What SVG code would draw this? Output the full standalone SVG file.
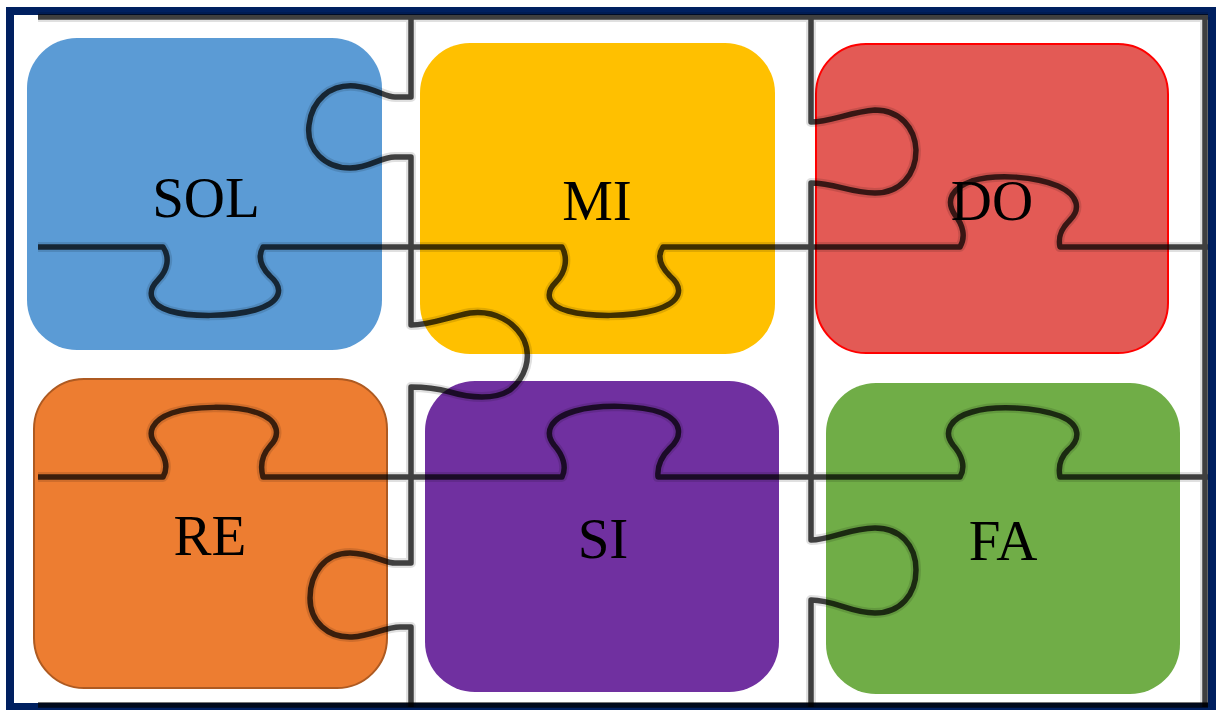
<svg xmlns="http://www.w3.org/2000/svg" width="1223" height="710" viewBox="0 0 1223 710">
  <defs>
    <style>
      .piece { stroke-width: 2; }
      .label { font-family: "Liberation Serif", "Times New Roman", serif; font-size: 57px; fill: #000; text-anchor: middle; }
      .halo { fill: none; stroke: #000; stroke-opacity: 0.12; stroke-width: 10; stroke-linejoin: round; stroke-linecap: butt; }
      .core { fill: none; stroke: #000; stroke-opacity: 0.72; stroke-width: 5.5; stroke-linejoin: round; stroke-linecap: butt; }
    </style>
    <path id="cuts" d="
      M38,17 H1208
      M1205,17 V707
      M38,247 H163 C170,257 168,270 158,280 C146,292 150,305 170,311 C190,317 230,317 255,310 C282,302 284,288 270,276 C260,266 258,256 263,247
      H562 C568,258 566,272 556,282 C544,294 548,306 568,311 C590,317 630,317 655,310 C682,302 684,288 670,276 C660,266 657,256 663,247
      H960 C966,237 963,225 955,215 C945,200 952,188 972,181 C995,174 1035,176 1058,186 C1080,196 1080,210 1070,220 C1060,230 1058,238 1060,247 H1208
      M38,477 H163 C169,467 165,455 156,445 C146,433 152,420 172,413 C192,406 235,405 258,413 C280,421 280,436 270,446 C262,455 260,466 263,477
      H562 C567,467 563,455 554,445 C544,432 550,418 575,411 C600,404 640,405 662,413 C683,422 682,437 670,448 C660,458 657,467 658,477
      H960 C966,467 962,455 953,445 C943,432 950,418 972,412 C995,405 1035,407 1060,416 C1082,425 1080,440 1068,450 C1060,458 1058,467 1060,477 H1208
      M411,17 V97 H395 C385,97 375,88 355,86 C330,84 312,100 309,125 C306,150 325,168 350,168 C370,168 380,157 395,157 H411 V325
      C430,325 445,318 470,313 C495,310 515,322 524,340 C532,358 525,378 510,390 C495,400 470,398 450,392 C435,388 420,387 411,387 V563
      H395 C385,563 370,553 350,553 C325,553 310,573 310,598 C310,622 328,638 352,637 C372,636 385,627 400,627 H411 V707
      M811,17 V122 C830,122 850,112 875,110 C900,110 915,128 916,150 C916,175 900,193 875,193 C850,193 835,183 811,183 V540
      C830,540 850,528 875,528 C900,528 916,545 916,570 C916,595 900,613 875,613 C850,613 835,600 811,600 V707" />
    <path id="bottomcut" d="M38,705 H1208" />
  </defs>

  <rect x="0" y="0" width="1223" height="710" fill="#ffffff"/>

  <g id="SOL">
    <rect class="piece" x="27" y="38" width="355" height="312" rx="50" fill="#5B9BD5"/>
  </g>
  <g id="MI">
    <rect class="piece" x="420" y="43" width="355" height="311" rx="50" fill="#FFC000"/>
  </g>
  <g id="DO">
    <rect class="piece" x="816" y="44" width="352" height="309" rx="50" fill="#E35A55" stroke="#FF0000"/>
  </g>
  <g id="RE">
    <rect class="piece" x="34" y="379" width="353" height="309" rx="50" fill="#ED7D31" stroke="#AE5A21"/>
  </g>
  <g id="SI">
    <rect class="piece" x="425" y="381" width="354" height="311" rx="50" fill="#7030A0"/>
  </g>
  <g id="FA">
    <rect class="piece" x="826" y="383" width="354" height="311" rx="50" fill="#70AD47"/>
  </g>

  <rect id="frame" x="10" y="11" width="1202" height="696" fill="none" stroke="#002060" stroke-width="8"/>

  <g id="connectors">
    <use href="#cuts" class="halo"/>
    <use href="#cuts" class="core"/>
    <use href="#bottomcut" class="core"/>
  </g>

  <g id="labels">
    <text class="label" x="206" y="217">SOL</text>
    <text class="label" x="597" y="220">MI</text>
    <text class="label" x="992" y="220">DO</text>
    <text class="label" x="210" y="555">RE</text>
    <text class="label" x="603" y="558">SI</text>
    <text class="label" x="1003" y="560">FA</text>
  </g>
</svg>
